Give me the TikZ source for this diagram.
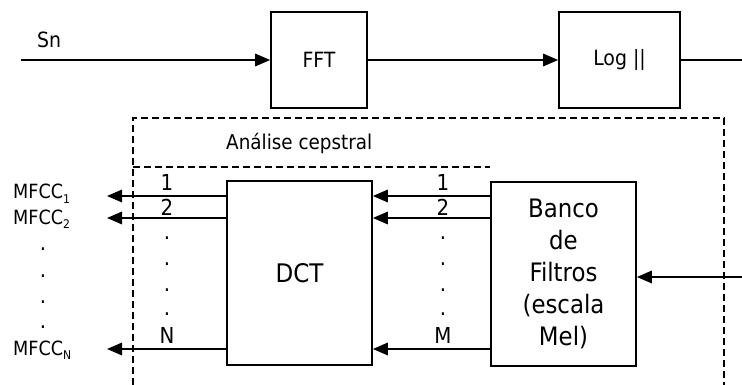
\documentclass[tikz,border=0pt]{standalone}
\usepackage{fontspec}
\setmainfont{DejaVu Sans}[FakeStretch=0.9]
\usetikzlibrary{arrows.meta}
\newcommand\mysubs[1]{\raisebox{-0.25em}{\fontsize{12}{12}\selectfont #1}}
\begin{document}
\begin{tikzpicture}[x=1pt,y=-1pt,
  blk/.style={draw, line width=1.7pt, inner sep=0pt, align=center},
  conn/.style={line width=1.7pt},
  arr/.style={conn, -{Triangle[length=15pt,width=12.5pt]}},
  frame/.style={line width=1.5pt, dash pattern=on 7pt off 4pt},
  txt/.style={inner sep=0pt, font=\fontsize{21}{21}\selectfont},
  lab/.style={inner sep=0pt, font=\fontsize{22}{22}\selectfont},
  mf/.style={inner sep=0pt, font=\fontsize{19.6}{19.6}\selectfont, anchor=base west},
]
\useasboundingbox (0,0) rectangle (742,385);
% top row
\node[blk, minimum width=96pt, minimum height=96pt, font=\fontsize{21}{21}\selectfont] (fft) at (319,60) {FFT};
\node[blk, minimum width=121pt, minimum height=96pt, font=\fontsize{21}{21}\selectfont] (log) at (619.5,60) {Log ||};
\node[txt, anchor=base west] (sn) at (37,48) {Sn};
\coordinate (snin) at (21,60);
\coordinate (logout) at (742,60);
\draw[arr] (snin) -- (fft.west);
\draw[arr] (fft.east) -- (log.west);
\draw[conn] (log.east) -- (logout);
% frame
\draw[frame] (133,385) -- (133,118) -- (724,118) -- (724,385);
\draw[frame] (133,167) -- (490,167);
\node[inner sep=0pt, font=\fontsize{20.4}{20.4}\selectfont, anchor=base west] (cep) at (226,150) {Análise cepstral};
% blocks
\node[blk, minimum width=145pt, minimum height=184pt, font=\fontsize{25.6}{25.6}\selectfont] (dct) at (299.5,273) {DCT};
\node[blk, minimum width=145pt, minimum height=184pt, font=\fontsize{25.4}{32}\selectfont] (bank) at (563.5,274) {Banco\\de\\Filtros\\(escala\\Mel)};
\coordinate (bankin) at (742,277);
\draw[arr] (bankin) -- (bank.east |- bankin);
% rows
\coordinate (row1) at (0,196);
\coordinate (row2) at (0,218);
\coordinate (rowN) at (0,349);
\coordinate (o1) at (107,196);
\coordinate (o2) at (107,218);
\coordinate (oN) at (107,349);
\foreach \r in {row1,row2,rowN}{
  \draw[arr] (bank.west |- \r) -- (dct.east |- \r);
}
\draw[arr] (dct.west |- row1) -- (o1);
\draw[arr] (dct.west |- row2) -- (o2);
\draw[arr] (dct.west |- rowN) -- (oN);
% channel labels
\node[lab] (l1) at (167,182) {1};
\node[lab] (l2) at (167,207) {2};
\node[lab] (lN) at (167,335) {N};
\node[lab] (r1) at (443,182) {1};
\node[lab] (r2) at (443,207) {2};
\node[lab] (rM) at (443,335) {M};
\foreach \yy in {237,263,289,313}{
  \node[lab, anchor=base] at (167,\yy+2) {.};
  \node[lab, anchor=base] at (443,\yy+2) {.};
}
\foreach \yy in {248,275,301,326}{
  \node[lab, anchor=base] at (43,\yy+2) {.};
}
% outputs
\node[mf] (m1) at (13,199) {MFCC\mysubs{1}};
\node[mf] (m2) at (13,224) {MFCC\mysubs{2}};
\node[mf] (mN) at (13,355) {MFCC\mysubs{N}};
\end{tikzpicture}
\end{document}
